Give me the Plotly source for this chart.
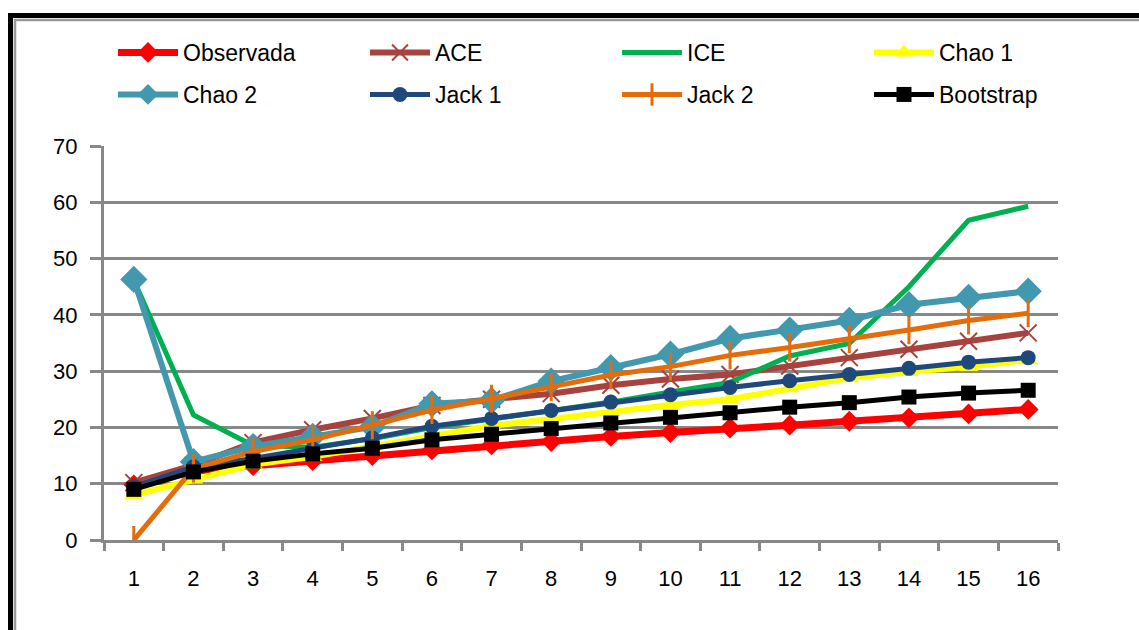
import plotly.graph_objects as go

# Sampling units (x axis)
muestras = [str(i) for i in range(1, 17)]

# Species richness estimators
observada = [9.8, 12.2, 13.2, 14.1, 15.0, 16.0, 16.9, 17.5, 18.4, 19.1, 19.9, 20.4, 21.1, 21.7, 22.4, 23.2]
ace = [10.2, 13.3, 17.3, 19.6, 21.6, 23.9, 25.0, 26.0, 27.5, 28.6, 29.4, 30.9, 32.4, 33.9, 35.3, 36.8]
ice = [46.2, 22.2, 16.8, 16.5, 18.0, 20.0, 21.5, 23.0, 24.5, 26.3, 28.0, 32.7, 34.9, 45.0, 56.8, 59.3]
chao1 = [8.0, 10.8, 13.4, 14.8, 16.6, 18.6, 20.3, 21.5, 22.8, 24.0, 25.0, 27.0, 28.8, 29.9, 30.8, 32.0]
chao2 = [46.3, 13.9, 16.6, 18.4, 20.1, 24.2, 24.8, 28.2, 30.6, 33.0, 35.8, 37.3, 39.0, 41.8, 43.1, 44.2]
jack1 = [9.5, 13.0, 14.5, 16.2, 18.1, 20.2, 21.6, 23.0, 24.5, 25.8, 27.1, 28.3, 29.4, 30.5, 31.6, 32.4]
jack2 = [0.0, 12.7, 15.7, 17.8, 20.4, 23.1, 25.1, 27.2, 29.3, 30.8, 32.8, 34.2, 35.7, 37.3, 39.0, 40.3]
bootstrap = [9.0, 12.1, 14.0, 15.3, 16.3, 17.8, 18.8, 19.8, 20.8, 21.8, 22.6, 23.6, 24.4, 25.4, 26.1, 26.6]

series = [
    ("Observada", observada, "#FF0000", dict(symbol="diamond", size=16), 7),
    ("ACE", ace, "#A8423F", dict(symbol="x-thin-open", size=17, line=dict(width=2, color="#A8423F")), 6),
    ("ICE", ice, "#00B050", None, 5),
    ("Chao 1", chao1, "#FFFF00", dict(symbol="triangle-up", size=17), 6),
    ("Chao 2", chao2, "#4198AF", dict(symbol="diamond", size=21), 6),
    ("Jack 1", jack1, "#1F497D", dict(symbol="circle", size=15), 5),
    ("Jack 2", jack2, "#E46C0A", dict(symbol="line-ns-open", size=20, line=dict(width=3, color="#E46C0A")), 5),
    ("Bootstrap", bootstrap, "#000000", dict(symbol="square", size=15), 5),
]

W, H = 1139, 630
L, R, T, B = 104, 81, 146, 90
pw, ph = W - L - R, H - T - B


def px(x):
    return (x - L) / pw


def py(y):
    return (H - B - y) / ph


grid = "#888888"
font = "Liberation Sans, Arial, sans-serif"

# legend grid: 4 columns x 2 rows, one legend box per entry
col_x = [113, 365, 617, 869]
row_y = [52.5, 94.5]

fig = go.Figure()
legends = {}
for i, (name, vals, color, marker, lw) in enumerate(series):
    key = "legend" if i == 0 else f"legend{i + 1}"
    fig.add_trace(go.Scatter(
        x=muestras, y=vals, name=name,
        mode="lines+markers" if marker else "lines",
        line=dict(color=color, width=lw),
        marker=dict(color=color, **marker) if marker else None,
        legend=key,
    ))
    legends[key] = dict(
        x=px(col_x[i % 4]), y=py(row_y[i // 4]),
        xref="paper", yref="paper", xanchor="left", yanchor="middle",
        font=dict(family=font, size=23, color="#000000"),
        bgcolor="rgba(0,0,0,0)", borderwidth=0,
        itemwidth=60, itemclick=False, itemdoubleclick=False,
    )

fig.update_layout(
    width=W, height=H,
    margin=dict(l=L, r=R, t=T, b=B, pad=0),
    paper_bgcolor="#FFFFFF", plot_bgcolor="#FFFFFF",
    font=dict(family=font, size=22, color="#000000"),
    showlegend=True,
    **legends,
    xaxis=dict(
        type="category", range=[-0.5, 15.5],
        showgrid=False, showline=True, linecolor=grid, linewidth=3,
        ticks="outside", tickson="boundaries", ticklen=8, tickwidth=3, tickcolor=grid,
        ticklabelstandoff=17, tickfont=dict(size=22, family=font),
        zeroline=False,
    ),
    yaxis=dict(
        range=[0, 70], dtick=10, tick0=0,
        showgrid=True, gridcolor=grid, gridwidth=3,
        showline=True, linecolor=grid, linewidth=3,
        ticks="outside", ticklen=11, tickwidth=3, tickcolor=grid,
        ticklabelstandoff=8, tickfont=dict(size=22, family=font),
        zeroline=False,
    ),
    shapes=[
        # outer frame
        dict(type="rect", xref="paper", yref="paper",
             x0=px(10.5), x1=px(W + 20), y0=py(H + 20), y1=py(15.5),
             line=dict(color="#000000", width=5), fillcolor="rgba(0,0,0,0)", layer="above"),
        dict(type="rect", xref="paper", yref="paper",
             x0=px(15), x1=px(W + 20), y0=py(H + 20), y1=py(20),
             line=dict(color="#999999", width=2.5), fillcolor="rgba(0,0,0,0)", layer="above"),
    ],
)

fig.write_html("out.html")
